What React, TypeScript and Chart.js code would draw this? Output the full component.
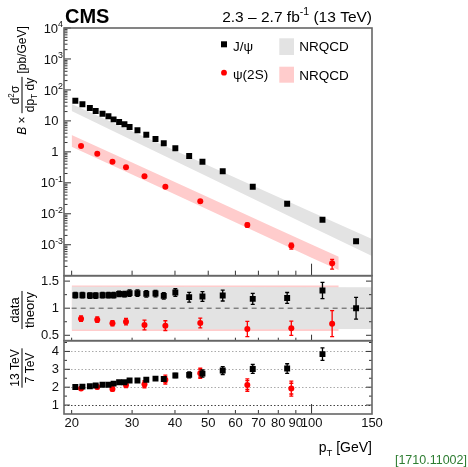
import React, { useEffect, useRef } from "react";
import { Chart, registerables } from "chart.js";

Chart.register(...registerables);

const FONT = "'Liberation Sans', Arial, Helvetica, sans-serif";

// ---------- Top panel: B x d2sigma/dpT dy [pb/GeV] ----------
const jpsiPt = [20.5, 21.5, 22.6, 23.5, 24.6, 25.6, 26.5, 27.5, 28.5, 29.5, 31.1, 33.0, 35.1, 37.1, 40.1, 44.0, 48.1, 55.1, 67.4, 84.9, 107.6, 134.8];
const jpsiXsec = [44.9, 34.3, 26.1, 20.8, 17.1, 14.1, 11.2, 9.2, 7.76, 6.34, 4.96, 3.58, 2.6, 1.89, 1.3, 0.734, 0.481, 0.235, 0.0748, 0.0211, 0.00643, 0.00129];
const jpsiXsecRelErr = [0.02, 0.02, 0.02, 0.02, 0.02, 0.02, 0.02, 0.02, 0.02, 0.02, 0.02, 0.02, 0.03, 0.03, 0.03, 0.04, 0.04, 0.05, 0.06, 0.08, 0.1, 0.14];

const psi2sPt = [21.3, 23.75, 26.3, 28.8, 32.6, 37.5, 47.4, 65.0, 87.3, 114.8];
const psi2sXsec = [1.55, 0.871, 0.481, 0.317, 0.162, 0.0748, 0.0252, 0.00434, 0.00093, 0.000251];
const psi2sXsecRelErr = [0.03, 0.03, 0.03, 0.04, 0.05, 0.06, 0.08, 0.15, 0.22, 0.35];

// NRQCD bands (top panel)
const jpsiBandPt = [20, 30, 50, 75, 100, 150];
const jpsiBandHi = [35.1, 4.64, 0.365, 0.0482, 0.0114, 0.00153];
const jpsiBandLo = [20.8, 2.38, 0.154, 0.01755, 0.00373, 0.000432];
const psi2sBandPt = [20, 30, 50, 75, 100, 120];
const psi2sBandHi = [3.5, 0.449, 0.034, 0.00437, 0.00102, 0.00041];
const psi2sBandLo = [1.47, 0.184, 0.0134, 0.00167, 0.000381, 0.000152];

// ---------- Middle panel: data / theory ----------
const jpsiRatio = [1.24, 1.24, 1.233, 1.233, 1.24, 1.24, 1.24, 1.265, 1.259, 1.278, 1.278, 1.265, 1.27, 1.228, 1.289, 1.204, 1.215, 1.233, 1.172, 1.19, 1.326, 1.0];
const jpsiRatioErr = [0.05, 0.05, 0.05, 0.05, 0.05, 0.05, 0.05, 0.05, 0.05, 0.06, 0.06, 0.06, 0.06, 0.06, 0.07, 0.09, 0.09, 0.1, 0.1, 0.1, 0.15, 0.2];
const psi2sRatio = [0.807, 0.789, 0.722, 0.752, 0.691, 0.678, 0.728, 0.617, 0.63, 0.715];
const psi2sRatioErr = [0.05, 0.05, 0.05, 0.06, 0.09, 0.09, 0.09, 0.14, 0.13, 0.24];

const jpsiRatioBandPt = [20, 150];
const jpsiRatioBandHi = [1.395, 1.385];
const jpsiRatioBandLo = [0.605, 0.615];
const psi2sRatioBandPt = [20, 120];
const psi2sRatioBandHi = [1.42, 1.42];
const psi2sRatioBandLo = [0.58, 0.58];

// ---------- Bottom panel: 13 TeV / 7 TeV ----------
const jpsiEnergyRatio = [2.01, 2.03, 2.05, 2.09, 2.14, 2.14, 2.2, 2.28, 2.28, 2.37, 2.37, 2.42, 2.48, 2.46, 2.65, 2.69, 2.76, 2.93, 3.02, 3.04, 3.85];
const jpsiEnergyRatioErr = [0.06, 0.06, 0.06, 0.06, 0.06, 0.06, 0.06, 0.07, 0.07, 0.08, 0.1, 0.1, 0.1, 0.12, 0.12, 0.17, 0.2, 0.22, 0.25, 0.27, 0.35];
const psi2sEnergyRatio = [1.92, 2.01, 1.9, 2.12, 2.16, 2.42, 2.78, 2.12, 1.92];
const psi2sEnergyRatioStat = [0.05, 0.06, 0.08, 0.1, 0.13, 0.17, 0.2, 0.25, 0.3];
const psi2sEnergyRatioErr = [0.08, 0.1, 0.12, 0.15, 0.2, 0.25, 0.28, 0.35, 0.42];

// ---------- Axes ----------
const xTicks = [20, 30, 40, 50, 60, 70, 80, 90, 100, 150];
const topYExponents = [4, 3, 2, 1, 0, -1, -2, -3];
const midYTicks = [0.5, 1, 1.5];
const botYTicks = [1, 2, 3, 4];

type Seg = { t: string; k?: "sup" | "sub"; it?: boolean; b?: boolean };

function segFont(size: number, s: Seg) {
  const sz = s.k ? size * 0.68 : size;
  return `${s.it ? "italic " : ""}${s.b ? "bold " : ""}${sz}px ${FONT}`;
}
function richW(ctx: CanvasRenderingContext2D, segs: Seg[], size: number) {
  let w = 0;
  for (const s of segs) {
    ctx.font = segFont(size, s);
    w += ctx.measureText(s.t).width;
  }
  return w;
}
function drawRich(ctx: CanvasRenderingContext2D, segs: Seg[], x: number, y: number, size: number, align: "left" | "right" | "center" = "left") {
  const w = richW(ctx, segs, size);
  let cx = align === "right" ? x - w : align === "center" ? x - w / 2 : x;
  ctx.textAlign = "left";
  ctx.textBaseline = "alphabetic";
  for (const s of segs) {
    ctx.font = segFont(size, s);
    const dy = s.k === "sup" ? -size * 0.42 : s.k === "sub" ? size * 0.25 : 0;
    ctx.fillText(s.t, cx, y + dy);
    cx += ctx.measureText(s.t).width;
  }
  return w;
}
function drawFractionTitle(ctx: CanvasRenderingContext2D, cx: number, cy: number, size: number, pre: Seg[], num: Seg[], den: Seg[], post: Seg[]) {
  ctx.save();
  ctx.translate(cx, cy);
  ctx.rotate(-Math.PI / 2);
  ctx.fillStyle = "#000";
  const wPre = richW(ctx, pre, size);
  const wNum = richW(ctx, num, size);
  const wDen = richW(ctx, den, size);
  const wPost = richW(ctx, post, size);
  const fw = Math.max(wNum, wDen) + 2;
  const total = wPre + fw + wPost;
  let x0 = -total / 2;
  const midBase = size * 0.36;
  drawRich(ctx, pre, x0, midBase, size);
  x0 += wPre;
  ctx.fillRect(x0, -0.5, fw, 1);
  drawRich(ctx, num, x0 + fw / 2, -3, size, "center");
  drawRich(ctx, den, x0 + fw / 2, 3 + size * 0.72, size, "center");
  x0 += fw;
  drawRich(ctx, post, x0, midBase, size);
  ctx.restore();
}

const panelPlugin = {
  id: "panels",
  beforeDatasetDraw(chart: any, args: any) {
    const ds = chart.data.datasets[args.index];
    if (!ds.errLo) return;
    const ctx: CanvasRenderingContext2D = chart.ctx;
    const xs = chart.scales.x;
    const ys = chart.scales[ds.yAxisID];
    ctx.save();
    ctx.strokeStyle = ds.errColor;
    ctx.lineWidth = 1.3;
    ds.data.forEach((p: any, j: number) => {
      const px = xs.getPixelForValue(p.x);
      const lo = ys.getPixelForValue(ds.errLo[j]);
      const hi = ys.getPixelForValue(ds.errHi[j]);
      ctx.beginPath();
      ctx.moveTo(px, lo);
      ctx.lineTo(px, hi);
      ctx.moveTo(px - 2, lo);
      ctx.lineTo(px + 2, lo);
      ctx.moveTo(px - 2, hi);
      ctx.lineTo(px + 2, hi);
      if (ds.statLo) {
        const sl = ys.getPixelForValue(ds.statLo[j]);
        const sh = ys.getPixelForValue(ds.statHi[j]);
        ctx.moveTo(px - 2, sl);
        ctx.lineTo(px + 2, sl);
        ctx.moveTo(px - 2, sh);
        ctx.lineTo(px + 2, sh);
      }
      ctx.stroke();
    });
    ctx.restore();
  },
  afterDatasetsDraw(chart: any) {
    const ctx: CanvasRenderingContext2D = chart.ctx;
    const { left, right } = chart.chartArea;
    const xs = chart.scales.x;
    const yTop = chart.scales.yTop;
    const yMid = chart.scales.yMid;
    const yBot = chart.scales.yBot;
    ctx.save();
    ctx.strokeStyle = "#333";
    ctx.lineWidth = 1;
    const vline = (x: number, y1: number, y2: number) => {
      ctx.beginPath();
      ctx.moveTo(x, y1);
      ctx.lineTo(x, y2);
      ctx.stroke();
    };
    const hline = (y: number, x1: number, x2: number) => {
      ctx.beginPath();
      ctx.moveTo(x1, y);
      ctx.lineTo(x2, y);
      ctx.stroke();
    };
    const panels: [any, number, number][] = [
      [yTop, 5, 12],
      [yMid, 3, 6],
      [yBot, 4, 10],
    ];
    for (const [s, small, big] of panels) {
      for (const v of xTicks) {
        if (v >= 150) continue;
        const px = xs.getPixelForValue(v);
        vline(px, s.bottom, s.bottom - (v === 100 ? big : small));
      }
    }
    for (let e = -4; e <= 4; e++) {
      const py = yTop.getPixelForValue(Math.pow(10, e));
      hline(py, left, left + 7);
      if (e < 4) {
        for (let k = 2; k <= 9; k++) {
          const pm = yTop.getPixelForValue(k * Math.pow(10, e));
          hline(pm, left, left + 3.5);
        }
      }
    }
    for (const v of [0.5, 0.75, 1, 1.25, 1.5]) {
      const py = yMid.getPixelForValue(v);
      const len = midYTicks.includes(v) ? 6 : 3;
      hline(py, left, left + len);
      hline(py, right, right - len);
    }
    for (const v of [1, 1.5, 2, 2.5, 3, 3.5, 4, 4.5]) {
      const py = yBot.getPixelForValue(v);
      const len = botYTicks.includes(v) ? 6 : 3;
      hline(py, left, left + len);
      hline(py, right, right - len);
    }
    ctx.strokeStyle = "#666";
    ctx.lineWidth = 1.6;
    for (const s of [yTop, yMid, yBot]) {
      ctx.strokeRect(left, s.top, right - left, s.bottom - s.top);
    }
    ctx.restore();
  },
  afterDraw(chart: any) {
    const ctx: CanvasRenderingContext2D = chart.ctx;
    const yTop = chart.scales.yTop;
    ctx.save();
    ctx.fillStyle = "#111";
    for (const e of topYExponents) {
      const py = yTop.getPixelForValue(Math.pow(10, e)) + 4.6;
      if (e === 0) drawRich(ctx, [{ t: "1" }], 58.5, py, 13, "right");
      else if (e === 1) drawRich(ctx, [{ t: "10" }], 58.5, py, 13, "right");
      else drawRich(ctx, [{ t: "10" }, { t: e < 0 ? "-" + -e : String(e), k: "sup" }], 63, py, 13, "right");
    }
    ctx.fillStyle = "#000";
    drawRich(ctx, [{ t: "CMS", b: true }], 65, 23, 20);
    drawRich(ctx, [{ t: "2.3 \u2013 2.7 fb" }, { t: "-1", k: "sup" }, { t: " (13 TeV)" }], 372, 22, 15.5, "right");
    ctx.fillStyle = "#000";
    ctx.fillRect(221, 41.3, 6, 6);
    ctx.fillStyle = "#ff0000";
    ctx.beginPath();
    ctx.arc(224, 72.7, 2.9, 0, Math.PI * 2);
    ctx.fill();
    ctx.fillStyle = "#e3e3e3";
    ctx.fillRect(279.3, 38.3, 14.7, 16.7);
    ctx.fillStyle = "#ffcccc";
    ctx.fillRect(279.3, 66.7, 14.7, 16);
    ctx.fillStyle = "#000";
    drawRich(ctx, [{ t: "J/\u03c8" }], 233, 50.5, 13.5);
    drawRich(ctx, [{ t: "\u03c8(2S)" }], 233, 79, 13.5);
    drawRich(ctx, [{ t: "NRQCD" }], 299.3, 51, 13.5);
    drawRich(ctx, [{ t: "NRQCD" }], 299.3, 79.5, 13.5);
    drawFractionTitle(ctx, 22, 80.5, 12, [{ t: "B", it: true }, { t: " \u00d7 " }], [{ t: "d" }, { t: "2", k: "sup" }, { t: "\u03c3" }], [{ t: "dp" }, { t: "T", k: "sub" }, { t: " dy" }], [{ t: " [pb/GeV]" }]);
    drawFractionTitle(ctx, 22, 310, 13, [], [{ t: "data" }], [{ t: "theory" }], []);
    drawFractionTitle(ctx, 22, 368, 12, [], [{ t: "13 TeV" }], [{ t: "7 TeV" }], []);
    drawRich(ctx, [{ t: "p" }, { t: "T", k: "sub" }, { t: " [GeV]" }], 372, 452, 14, "right");
    ctx.fillStyle = "#2e7d32";
    drawRich(ctx, [{ t: "[1710.11002]" }], 467, 464, 12.5, "right");
    ctx.restore();
  },
};

function pts(xv: number[], yv: number[]) {
  return yv.map((y, i) => ({ x: xv[i], y }));
}

function band(xv: number[], hi: number[], lo: number[], color: string, yAxisID: string) {
  const common = { showLine: true, borderColor: "rgba(0,0,0,0)", borderWidth: 0, pointRadius: 0, yAxisID };
  return [
    { ...common, data: pts(xv, hi), fill: "+1", backgroundColor: color },
    { ...common, data: pts(xv, lo), fill: false, backgroundColor: color },
  ];
}

function buildConfig(): any {
  const black = { pointStyle: "rect", pointRadius: 4.2, backgroundColor: "#000", borderColor: "#000", borderWidth: 0, errColor: "#000" };
  const red = { pointStyle: "circle", pointRadius: 3, backgroundColor: "#ff0000", borderColor: "#ff0000", borderWidth: 0, errColor: "#ff0000" };
  const jpsiEPt = jpsiPt.slice(0, jpsiEnergyRatio.length);
  const psiEPt = psi2sPt.slice(0, psi2sEnergyRatio.length);
  const datasets: any[] = [
    { ...black, yAxisID: "yTop", data: pts(jpsiPt, jpsiXsec), errLo: jpsiXsec.map((v, i) => v * (1 - jpsiXsecRelErr[i])), errHi: jpsiXsec.map((v, i) => v * (1 + jpsiXsecRelErr[i])) },
    { ...red, yAxisID: "yTop", data: pts(psi2sPt, psi2sXsec), errLo: psi2sXsec.map((v, i) => v * (1 - psi2sXsecRelErr[i])), errHi: psi2sXsec.map((v, i) => v * (1 + psi2sXsecRelErr[i])) },
    { ...black, yAxisID: "yMid", data: pts(jpsiPt, jpsiRatio), errLo: jpsiRatio.map((v, i) => v - jpsiRatioErr[i]), errHi: jpsiRatio.map((v, i) => v + jpsiRatioErr[i]) },
    { ...red, yAxisID: "yMid", data: pts(psi2sPt, psi2sRatio), errLo: psi2sRatio.map((v, i) => v - psi2sRatioErr[i]), errHi: psi2sRatio.map((v, i) => v + psi2sRatioErr[i]) },
    { ...black, yAxisID: "yBot", data: pts(jpsiEPt, jpsiEnergyRatio), errLo: jpsiEnergyRatio.map((v, i) => v - jpsiEnergyRatioErr[i]), errHi: jpsiEnergyRatio.map((v, i) => v + jpsiEnergyRatioErr[i]) },
    {
      ...red, yAxisID: "yBot", data: pts(psiEPt, psi2sEnergyRatio),
      errLo: psi2sEnergyRatio.map((v, i) => v - psi2sEnergyRatioErr[i]), errHi: psi2sEnergyRatio.map((v, i) => v + psi2sEnergyRatioErr[i]),
      statLo: psi2sEnergyRatio.map((v, i) => v - psi2sEnergyRatioStat[i]), statHi: psi2sEnergyRatio.map((v, i) => v + psi2sEnergyRatioStat[i]),
    },
    { yAxisID: "yMid", data: [{ x: 20, y: 1 }, { x: 150, y: 1 }], showLine: true, borderColor: "#555", borderWidth: 1, borderDash: [5, 4], pointRadius: 0 },
    ...band(jpsiRatioBandPt, jpsiRatioBandHi, jpsiRatioBandLo, "#e3e3e3", "yMid"),
    ...band(psi2sRatioBandPt, psi2sRatioBandHi, psi2sRatioBandLo, "#ffcccc", "yMid"),
    ...band(jpsiBandPt, jpsiBandHi, jpsiBandLo, "#e3e3e3", "yTop"),
    ...band(psi2sBandPt, psi2sBandHi, psi2sBandLo, "#ffcccc", "yTop"),
  ];
  const tickFont = { family: FONT, size: 13 };
  return {
    type: "scatter",
    data: { datasets },
    options: {
      animation: false,
      responsive: false,
      events: [],
      layout: { padding: { left: 0, top: 28, right: 96, bottom: 0 } },
      plugins: { legend: { display: false }, tooltip: { enabled: false } },
      scales: {
        x: {
          type: "logarithmic",
          min: 19,
          max: 150,
          position: "bottom",
          grid: { display: false, drawTicks: false },
          border: { display: false },
          afterBuildTicks: (s: any) => {
            s.ticks = xTicks.map((v) => ({ value: v }));
          },
          afterFit: (s: any) => {
            s.height = 53;
          },
          ticks: { autoSkip: false, maxRotation: 0, padding: 2, color: "#111", font: tickFont, callback: (v: any) => String(v) },
        },
        yBot: {
          type: "linear",
          position: "left",
          stack: "panels",
          stackWeight: 73.3,
          weight: 1,
          min: 0.5,
          max: 4.6,
          afterBuildTicks: (s: any) => {
            s.ticks = botYTicks.map((v) => ({ value: v }));
          },
          afterFit: (s: any) => {
            s.width = 64;
          },
          grid: { display: true, drawTicks: false, color: (c: any) => (c.tick && c.tick.value === 1 ? "#444" : "#aaa"), lineWidth: 1 },
          border: { display: false, dash: [1.5, 2] },
          ticks: { autoSkip: false, padding: 5, color: "#111", font: tickFont, callback: (v: any) => String(v) },
        },
        yMid: {
          type: "linear",
          position: "left",
          stack: "panels",
          stackWeight: 65,
          weight: 2,
          min: 0.4,
          max: 1.6,
          afterBuildTicks: (s: any) => {
            s.ticks = midYTicks.map((v) => ({ value: v }));
          },
          afterFit: (s: any) => {
            s.width = 64;
          },
          grid: { display: false, drawTicks: false },
          border: { display: false },
          ticks: { autoSkip: false, padding: 5, color: "#111", font: tickFont, callback: (v: any) => String(v) },
        },
        yTop: {
          type: "logarithmic",
          position: "left",
          stack: "panels",
          stackWeight: 247.7,
          weight: 3,
          min: 1e-4,
          max: 1e4,
          afterFit: (s: any) => {
            s.width = 64;
          },
          grid: { display: false, drawTicks: false },
          border: { display: false },
          ticks: { display: false },
        },
      },
    },
    plugins: [panelPlugin],
  };
}

export default function App() {
  const ref = useRef<HTMLCanvasElement>(null);
  useEffect(() => {
    const chart = new Chart(ref.current as HTMLCanvasElement, buildConfig());
    return () => chart.destroy();
  }, []);
  return (
    <div style={{ position: "absolute", left: 0, top: 0, width: 468, height: 467, background: "#fff" }}>
      <canvas ref={ref} width={468} height={467} style={{ display: "block", width: 468, height: 467 }} />
    </div>
  );
}
